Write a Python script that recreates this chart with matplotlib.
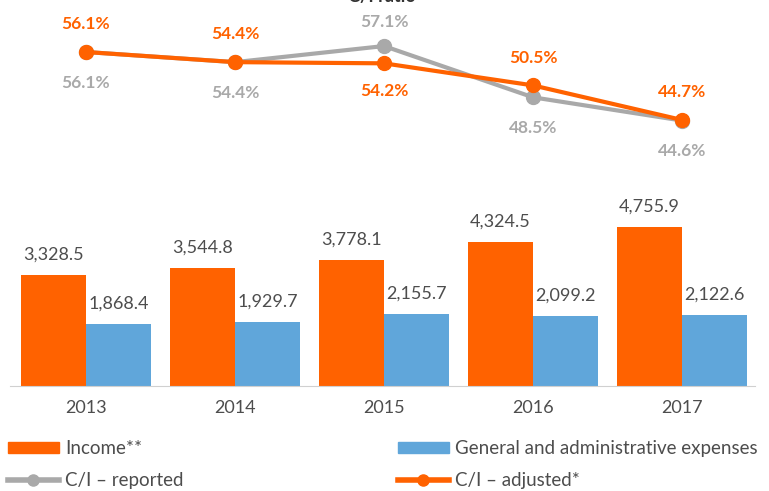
import matplotlib.pyplot as plt
from matplotlib.patches import Patch
from matplotlib.lines import Line2D

years = ['2013', '2014', '2015', '2016', '2017']
income = [3328.5, 3544.8, 3778.1, 4324.5, 4755.9]
expenses = [1868.4, 1929.7, 2155.7, 2099.2, 2122.6]
ci_reported = [56.1, 54.4, 57.1, 48.5, 44.6]
ci_adjusted = [56.1, 54.4, 54.2, 50.5, 44.7]

ORANGE = '#FF6200'
BLUE = '#60A6DA'
GRAY = '#A9A9A9'
TEXT = '#4D4D4D'

plt.rcParams['font.family'] = ['Lato', 'DejaVu Sans']

W, H = 769, 491
fig = plt.figure(figsize=(W / 100, H / 100), dpi=100)

def px_axes(left, top, right, bottom):
    return fig.add_axes([left / W, 1 - bottom / H, (right - left) / W, (bottom - top) / H])

x = list(range(len(years)))
xlim = (-0.51, 4.49)

# bars
ax = px_axes(10, 150, 755, 386)
bw = 0.435
ax.bar([i - bw / 2 for i in x], income, bw, color=ORANGE, label='Income**')
ax.bar([i + bw / 2 for i in x], expenses, bw, color=BLUE, label='General and administrative expenses')
for i in x:
    ax.annotate(f'{income[i]:,.1f}', (i - bw / 2, income[i]), xytext=(0, 9), textcoords='offset points',
                ha='center', va='bottom', fontsize=13, color=TEXT)
    ax.annotate(f'{expenses[i]:,.1f}', (i + bw / 2, expenses[i]), xytext=(0, 9), textcoords='offset points',
                ha='center', va='bottom', fontsize=13, color=TEXT)
ax.set_xlim(*xlim)
ax.set_ylim(0, 7077)
ax.set_xticks(x)
ax.set_xticklabels(years, fontsize=13, color=TEXT)
ax.tick_params(axis='x', length=0, pad=10)
ax.set_yticks([])
for s in ['top', 'right', 'left']:
    ax.spines[s].set_visible(False)
ax.spines['bottom'].set_color('#D0D0D0')

# lines
lx = px_axes(10, 20, 755, 150)
lx.plot(x, ci_reported, color=GRAY, lw=3, marker='o', ms=10, zorder=2)
lx.plot(x, ci_adjusted, color=ORANGE, lw=3, marker='o', ms=10, zorder=3)
adj_above = [True, True, False, True, True]
rep_above = [False, False, True, False, False]
for i in x:
    dy = 20 if adj_above[i] else -20
    lx.annotate(f'{ci_adjusted[i]:.1f}%', (i, ci_adjusted[i]), xytext=(0, dy), textcoords='offset points',
                ha='center', va='center', fontsize=12.5, color=ORANGE, fontweight='bold')
    dy = 17 if rep_above[i] else -22
    lx.annotate(f'{ci_reported[i]:.1f}%', (i, ci_reported[i]), xytext=(0, dy), textcoords='offset points',
                ha='center', va='center', fontsize=12.5, color=GRAY, fontweight='bold')
lx.set_xlim(*xlim)
lx.set_ylim(39.66, 61.47)
lx.axis('off')

fig.text(382 / W, 1.008, 'C/I ratio', ha='center', va='center', fontsize=13, fontweight='bold', color='#333333')

# legend
left_h = [Patch(color=ORANGE), Line2D([], [], color=GRAY, lw=4, marker='o', ms=8)]
right_h = [Patch(color=BLUE), Line2D([], [], color=ORANGE, lw=4, marker='o', ms=8)]
common = dict(frameon=False, fontsize=13.5, handlelength=2.7, handleheight=0.55, handletextpad=0.35,
              labelspacing=0.8, labelcolor=TEXT, loc='upper left', borderaxespad=0, borderpad=0)
fig.legend(left_h, ['Income**', 'C/I \u2013 reported'], bbox_to_anchor=(8 / W, 1 - 440 / H), **common)
fig.legend(right_h, ['General and administrative expenses', 'C/I \u2013 adjusted*'],
           bbox_to_anchor=(398 / W, 1 - 440 / H), **common)

fig.savefig('out.png', dpi=100)
